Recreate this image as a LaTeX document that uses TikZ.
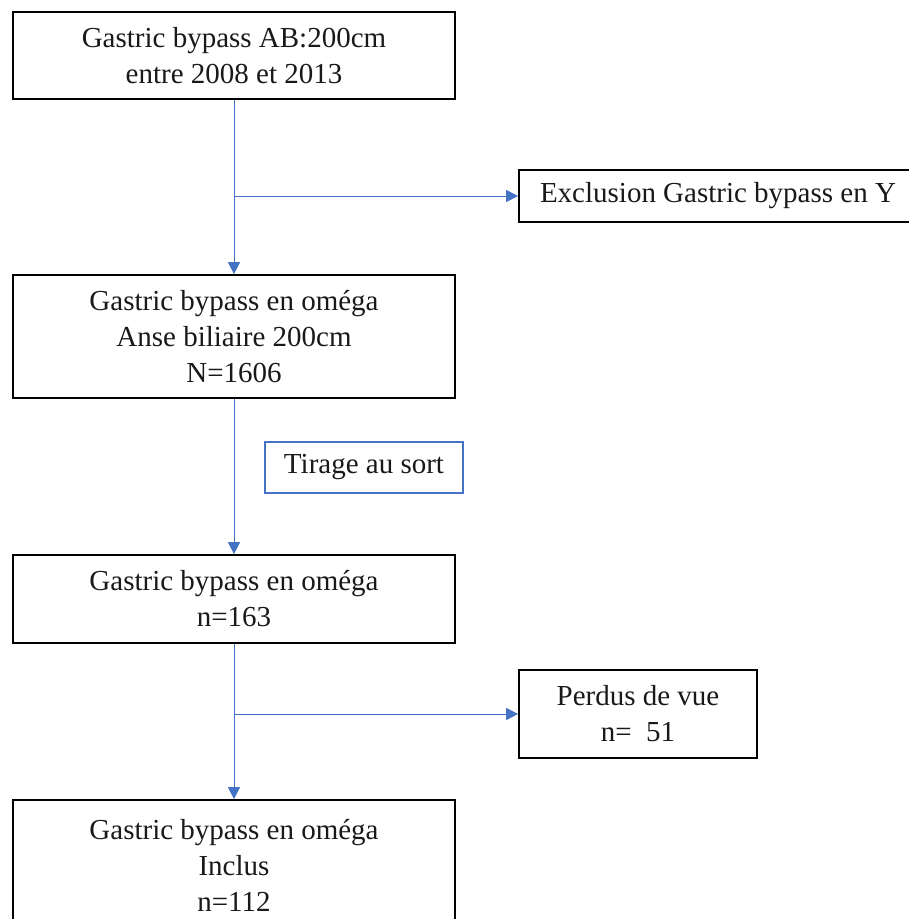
\documentclass[tikz,border=0pt]{standalone}
\usepackage{fontspec}
\setmainfont{Liberation Serif}
\usetikzlibrary{arrows.meta}
\definecolor{linkblue}{RGB}{68,114,196}
\tikzset{
  box/.style={draw=black, line width=1.7pt, align=center, inner sep=0pt,
    font=\fontsize{29}{36}\selectfont, text=black!90},
  bluebox/.style={box, draw=linkblue, line width=1.4pt},
  link/.style={draw=linkblue, line width=1pt, -{Triangle[length=12pt,width=12pt]}}
}
\begin{document}
\begin{tikzpicture}[x=1pt,y=-1pt]
\useasboundingbox (0,0) rectangle (909,919);
\clip (0,0) rectangle (909,919);
\node[box, minimum width=442pt, minimum height=87pt] (b1) at (234,55.5)
  {Gastric bypass AB:200cm\\entre 2008 et 2013};
\node[box, minimum width=430pt, minimum height=52pt] (ex) at (734,196)
  {\hspace*{-32pt}Exclusion Gastric bypass en Y};
\node[box, minimum width=442pt, minimum height=123pt] (b2) at (234,336.5)
  {Gastric bypass en oméga\\Anse biliaire 200cm\\N=1606};
\node[bluebox, minimum width=198pt, minimum height=51pt] (ts) at (364,467.5)
  {Tirage au sort};
\node[box, minimum width=442pt, minimum height=88pt] (b3) at (234,599)
  {Gastric bypass en oméga\\n=163};
\node[box, minimum width=238pt, minimum height=88pt] (pv) at (638,714)
  {Perdus de vue\\n=~~51};
\node[box, minimum width=442pt, minimum height=130pt] (b4) at (234,865)
  {Gastric bypass en oméga\\Inclus\\n=112};
\coordinate (j1) at (b1.south |- ex.west);
\coordinate (j2) at (b3.south |- pv.west);
\draw[link] (b1.south) -- (b2.north);
\draw[link] (j1) -- (ex.west);
\draw[link] (b2.south) -- (b3.north);
\draw[link] (b3.south) -- (b4.north);
\draw[link] (j2) -- (pv.west);
\end{tikzpicture}
\end{document}
